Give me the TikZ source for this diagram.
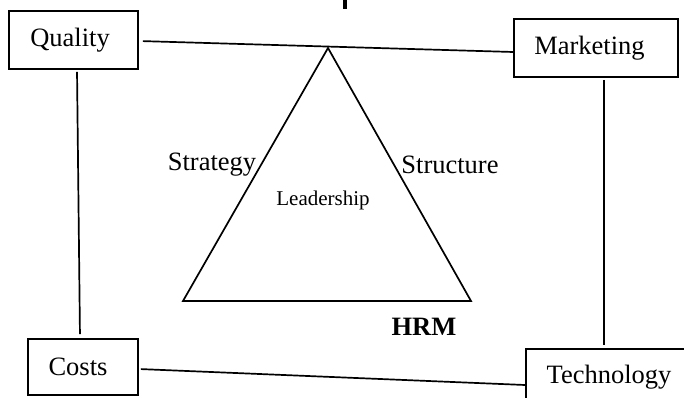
\documentclass[tikz,border=0pt]{standalone}
\usepackage{fontspec}
\setmainfont{Liberation Serif}

\begin{document}
\begin{tikzpicture}[x=1pt,y=-1pt,line width=1.7pt,
	box/.style={draw,inner sep=0pt,font=\fontsize{26.5}{30}\selectfont},
	lab/.style={inner sep=0pt,font=\fontsize{26.5}{30}\selectfont}]
	\useasboundingbox (0,0) rectangle (684,398);
	\node[box,minimum width=129pt,minimum height=58pt] (quality) at (73.5,40) {\hspace{-7pt}Quality};
	\node[box,minimum width=164pt,minimum height=58pt] (marketing) at (596,48) {\hspace{-13pt}Marketing};
	\node[box,minimum width=110pt,minimum height=56pt] (costs) at (83,367) {\hspace{-10pt}Costs};
	\node[box,minimum width=166pt,minimum height=56pt] (technology) at (609,377) {Technology};
	\coordinate (apex) at (328,48);
	\coordinate (baseleft) at (183,301);
	\coordinate (baseright) at (471,301);
	\node[lab] (strategy) at (212,165) {Strategy};
	\node[lab] (structure) at (450,165) {Structure};
	\node[inner sep=0pt,font=\fontsize{21}{25}\selectfont] (leadership) at (323,200) {Leadership};
	\node[lab,font=\fontsize{26.5}{30}\selectfont\bfseries] (hrm) at (424,327) {HRM};
	\fill (343,0) rectangle (347,9);
	\draw[line join=miter] (baseleft) -- (baseright) -- (apex) -- cycle;
	\draw[shorten <=4pt] ([yshift=-1pt]quality.east) -- ([yshift=-4pt]marketing.west);
	\draw[shorten <=2pt,shorten >=4pt] ([xshift=3.5pt]quality.south) -- ([xshift=-3pt]costs.north);
	\draw[shorten <=2pt] ([yshift=-2pt]costs.east) -- ([yshift=-8pt]technology.west);
	\draw[shorten <=2pt,shorten >=3pt] ([xshift=8pt]marketing.south) -- ([xshift=-5pt]technology.north);
\end{tikzpicture}
\end{document}
